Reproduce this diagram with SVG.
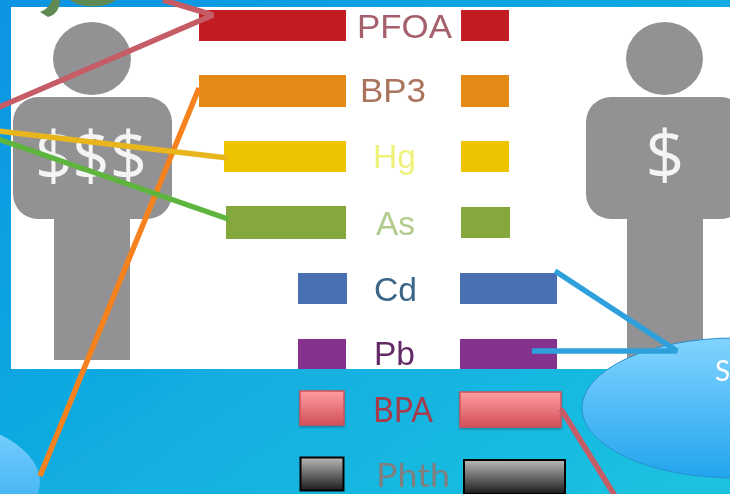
<svg xmlns="http://www.w3.org/2000/svg" width="730" height="494" viewBox="0 0 730 494">
<style>
.g{fill:#929295}
.sans{font-family:"Liberation Sans",Arial,sans-serif}
.lato{font-family:"Lato","Open Sans",sans-serif}
.lbl{font-size:33px}
.dol{font-family:"Open Sans","Noto Sans",sans-serif;font-size:68px;fill:#f4f4f5}
.c{fill:none;stroke-width:5.500;stroke-linecap:butt;stroke-linejoin:bevel}
</style>
<defs>
<linearGradient id="bg" x1="0" y1="0" x2="1" y2="1"><stop offset="0" stop-color="#0793e3"/><stop offset="1" stop-color="#1cc4df"/></linearGradient>
<linearGradient id="ell" x1="0" y1="0" x2="0" y2="1"><stop offset="0" stop-color="#82d4ff"/><stop offset="1" stop-color="#22a4ee"/></linearGradient>
<linearGradient id="pink" x1="0" y1="0" x2="0" y2="1"><stop offset="0" stop-color="#ff9da2"/><stop offset="1" stop-color="#d24f58"/></linearGradient>
<linearGradient id="gray" x1="0" y1="0" x2="0" y2="1"><stop offset="0" stop-color="#b8b8b8"/><stop offset="1" stop-color="#1c1c1c"/></linearGradient>
<filter id="soft" x="-2%" y="-2%" width="104%" height="104%"><feGaussianBlur stdDeviation="0.7"/></filter>
<filter id="sh" x="-10%" y="-10%" width="120%" height="130%"><feDropShadow dx="0" dy="1.500" stdDeviation="1.200" flood-color="#000" flood-opacity="0.3"/></filter>
</defs>
<g filter="url(#soft)">
<rect x="-5" y="-5" width="740" height="504" fill="url(#bg)"/>
<rect x="11" y="7" width="724" height="362" fill="#fff"/>
<g id="leaf" fill="#5f8a52">
<path d="M52 0 H60 C60 8 56 15 48 17 L40 12 C46 10 50 5 52 0Z"/>
<path d="M70 0 H116 C108 7 82 10 70 0Z"/>
</g>
<g id="person-left">
<ellipse class="g" cx="92" cy="58.500" rx="39" ry="36.500"/>
<rect class="g" x="13" y="97" width="159" height="122" rx="25"/>
<rect class="g" x="54" y="200" width="76" height="160"/>
<text class="dol" x="91" y="180" text-anchor="middle" textLength="112" lengthAdjust="spacingAndGlyphs">$$$</text>
</g>
<g id="person-right">
<ellipse class="g" cx="664.500" cy="58.500" rx="38.500" ry="36.500"/>
<rect class="g" x="586" y="97" width="160" height="122" rx="25"/>
<rect class="g" x="627" y="200" width="76" height="160"/>
<text class="dol" x="665" y="179" text-anchor="middle">$</text>
</g>
<g id="row-pfoa">
<rect x="199" y="10" width="147" height="31" fill="#c31d24"/><rect x="461" y="10" width="48" height="31" fill="#c31d24"/>
<text class="sans lbl" x="357" y="38" fill="#a5606c" textLength="95" lengthAdjust="spacingAndGlyphs">PFOA</text>
</g>
<g id="row-bp3">
<rect x="199" y="75" width="147" height="32" fill="#e58a18"/><rect x="461" y="75" width="48" height="32" fill="#e58a18"/>
<text class="sans lbl" x="360" y="102" fill="#a9735c" textLength="66" lengthAdjust="spacingAndGlyphs">BP3</text>
</g>
<g id="row-hg">
<rect x="224" y="141" width="122" height="31" fill="#eec400"/><rect x="461" y="141" width="48" height="31" fill="#eec400"/>
<text class="sans lbl" x="373" y="168" fill="#eef27a" textLength="43" lengthAdjust="spacingAndGlyphs">Hg</text>
</g>
<g id="row-as">
<rect x="226" y="206" width="120" height="33" fill="#84a83c"/><rect x="461" y="207" width="49" height="31" fill="#84a83c"/>
<text class="sans lbl" x="376" y="235" fill="#b3cb8e" textLength="39" lengthAdjust="spacingAndGlyphs">As</text>
</g>
<g id="row-cd">
<rect x="298" y="273" width="49" height="31" fill="#4a70b2"/><rect x="460" y="273" width="97" height="31" fill="#4a70b2"/>
<text class="sans lbl" x="374" y="301" fill="#3a6688" textLength="43" lengthAdjust="spacingAndGlyphs">Cd</text>
</g>
<g id="row-pb">
<rect x="298" y="339" width="48" height="30" fill="#85308f"/><rect x="460" y="339" width="97" height="30" fill="#85308f"/>
<text class="sans lbl" x="374" y="365" fill="#622a66" textLength="41" lengthAdjust="spacingAndGlyphs">Pb</text>
</g>
<g id="row-bpa">
<rect x="300" y="391" width="44" height="34" fill="url(#pink)" stroke="#d0525a" stroke-width="1.500" filter="url(#sh)"/>
<rect x="460" y="392" width="101" height="35" fill="url(#pink)" stroke="#d0525a" stroke-width="1.500" filter="url(#sh)"/>
<text class="lato" x="373" y="422" font-size="34" fill="#a83a48" textLength="60" lengthAdjust="spacingAndGlyphs">BPA</text>
</g>
<g id="row-phth">
<rect x="300.500" y="457.500" width="43" height="33" fill="url(#gray)" stroke="#000" stroke-width="2"/>
<rect x="464" y="460" width="101" height="34" fill="url(#gray)" stroke="#000" stroke-width="2"/>
<text class="lato" x="376" y="487" font-size="32" fill="#7f7f7f" textLength="74" lengthAdjust="spacingAndGlyphs">Phth</text>
</g>
<g id="cloud-right">
<ellipse cx="735" cy="408" rx="153" ry="70" fill="url(#ell)" stroke="#2a8fd0" stroke-width="1"/>
<text class="lato" x="715" y="381" font-size="28" fill="#fff">S</text>
</g>
<g id="cloud-left">
<ellipse cx="-110" cy="482" rx="150" ry="70" fill="url(#ell)"/>
</g>
<g id="connectors">
<path class="c" stroke="#c65b66" d="M-3 108 L213 15 L163 0"/>
<path class="c" stroke="#f5821f" d="M199 88 L40 476"/>
<path class="c" stroke="#e8b61e" d="M-2 131 L228 158"/>
<path class="c" stroke="#5db53c" d="M-2 139 L228 219"/>
<path class="c" stroke="#2ea1dc" d="M555 271 L677 351 L532 351"/>
<path class="c" stroke="#c65b66" d="M561 409 L615 496"/>
</g>
</g>
</svg>
